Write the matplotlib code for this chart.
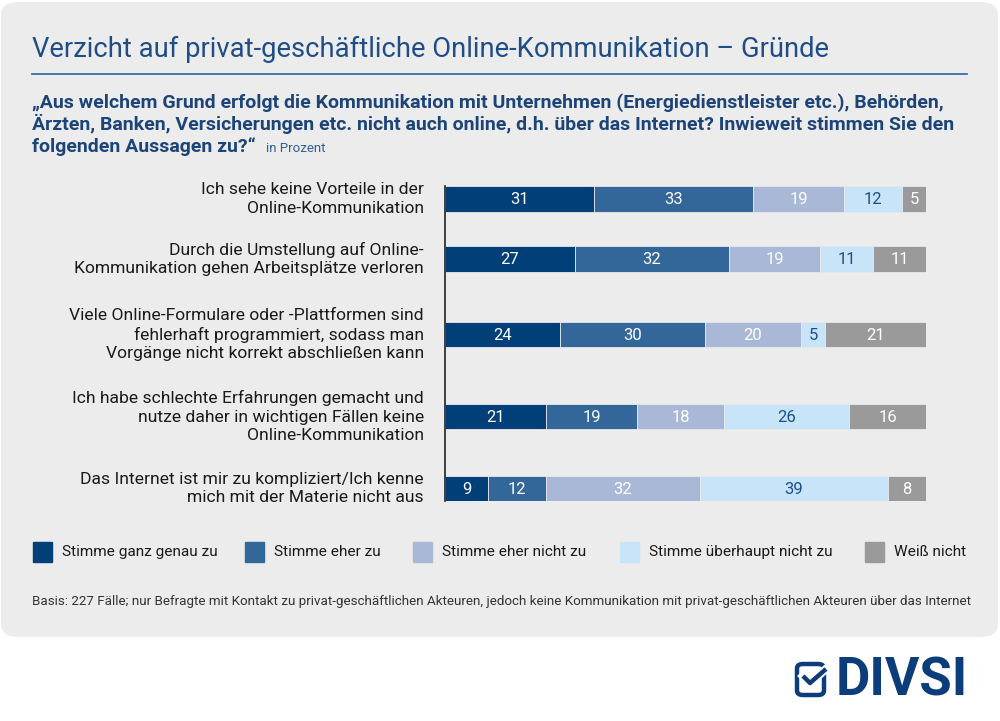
import matplotlib
matplotlib.use("Agg")
import matplotlib.pyplot as plt
import numpy as np
from matplotlib.patches import FancyBboxPatch, Rectangle
from matplotlib.lines import Line2D

plt.rcParams['font.family'] = ['Roboto', 'DejaVu Sans']

# data
categories = [
    "Ich sehe keine Vorteile in der\nOnline-Kommunikation",
    "Durch die Umstellung auf Online-\nKommunikation gehen Arbeitsplätze verloren",
    "Viele Online-Formulare oder -Plattformen sind\nfehlerhaft programmiert, sodass man\nVorgänge nicht korrekt abschließen kann",
    "Ich habe schlechte Erfahrungen gemacht und\nnutze daher in wichtigen Fällen keine\nOnline-Kommunikation",
    "Das Internet ist mir zu kompliziert/Ich kenne\nmich mit der Materie nicht aus",
]
series_names = ["Stimme ganz genau zu", "Stimme eher zu", "Stimme eher nicht zu",
                "Stimme überhaupt nicht zu", "Weiß nicht"]
ganz_genau = [31, 27, 24, 21, 9]
eher_zu = [33, 32, 30, 19, 12]
eher_nicht = [19, 19, 20, 18, 32]
ueberhaupt_nicht = [12, 11, 5, 26, 39]
weiss_nicht = [5, 11, 21, 16, 8]
series = [ganz_genau, eher_zu, eher_nicht, ueberhaupt_nicht, weiss_nicht]

title = "Verzicht auf privat-geschäftliche Online-Kommunikation – Gründe"
question = ["„Aus welchem Grund erfolgt die Kommunikation mit Unternehmen (Energiedienstleister etc.), Behörden,",
            "Ärzten, Banken, Versicherungen etc. nicht auch online, d.h. über das Internet? Inwieweit stimmen Sie den",
            "folgenden Aussagen zu?“"]
unit = "in Prozent"
footnote = ("Basis: 227 Fälle; nur Befragte mit Kontakt zu privat-geschäftlichen Akteuren, "
            "jedoch keine Kommunikation mit privat-geschäftlichen Akteuren über das Internet")

# styles / layout
colors = ["#003f78", "#336699", "#a9b8d6", "#c8e4f8", "#9a9a9a"]
value_colors = ["white", "white", "white", "#1d4f8c", "white"]
row_y = [199, 259, 334.5, 416.5, 488.5]   # pixel centers of the rows
bar_h = 25.5
W, H = 1000, 721
navy = "#1f4d86"

def fx(x):
    return x / W

def fy(y):
    return 1 - y / H

fig = plt.figure(figsize=(10, 7.21), dpi=100)
fig.patch.set_facecolor("white")

# grey rounded panel
panel = FancyBboxPatch((fx(1), fy(637)), fx(997), 635 / H,
                       boxstyle="round,pad=0,rounding_size=0.018",
                       transform=fig.transFigure, facecolor="#ececec",
                       edgecolor="none", zorder=-10)
fig.patches.append(panel)

# title and rule
fig.text(fx(32), fy(57), title, fontsize=19.7, color=navy, va="baseline", ha="left")
fig.add_artist(Line2D([fx(32), fx(967)], [fy(74), fy(74)], color="#3b6ea8", lw=1.3,
                      transform=fig.transFigure))

# question
for i, line in enumerate(question):
    t = fig.text(fx(32), fy(108 + 22 * i), line, fontsize=14.0, fontweight="bold",
                 color="#1c4478", va="baseline", ha="left")
fig.canvas.draw()
bb = t.get_window_extent()
fig.text(bb.x1 / W + fx(10), fy(152), unit, fontsize=9.5, color="#2f5f98",
         va="baseline", ha="left")

# bars
ax = fig.add_axes([fx(445), fy(501), fx(926) - fx(445), (501 - 186) / H])
ax.set_xlim(0, 100)
ax.set_ylim(501, 186)
ax.patch.set_alpha(0)
left = np.zeros(len(categories))
for vals, c, tc in zip(series, colors, value_colors):
    vals = np.array(vals)
    ax.barh(row_y, vals, left=left, height=bar_h, color=c, edgecolor="#e6e9ee", linewidth=0.6)
    for y, l, v in zip(row_y, left, vals):
        ax.text(l + v / 2, y + 0.5, str(v), ha="center", va="center", fontsize=12, color=tc)
    left += vals

for s in ["top", "right", "bottom"]:
    ax.spines[s].set_visible(False)
ax.spines["left"].set_color("#222222")
ax.spines["left"].set_linewidth(1.2)
ax.set_xticks([])
ax.set_yticks([])

for y, cat in zip(row_y, categories):
    fig.text(fx(424), fy(y), cat, ha="right", va="center", fontsize=12.6,
             color="#1a1a1a", linespacing=1.27)

# legend
leg_sq = [33, 245, 413, 620, 865]
for x, name, c in zip(leg_sq, series_names, colors):
    fig.patches.append(Rectangle((fx(x), fy(562)), fx(19), 20 / H, color=c,
                                 transform=fig.transFigure))
    fig.text(fx(x + 29), fy(552), name, fontsize=11.1, color="#1a1a1a",
             va="center", ha="left")

fig.text(fx(32), fy(602), footnote, fontsize=9.6, color="#333333", va="center", ha="left")

# logo
logo_c = "#0a3d7a"
fig.patches.append(FancyBboxPatch((fx(797), fy(695)), fx(27), 31 / H,
                                  boxstyle="round,pad=0,rounding_size=0.006",
                                  transform=fig.transFigure, facecolor="none",
                                  edgecolor=logo_c, linewidth=3.2))
fig.add_artist(Line2D([fx(803), fx(810), fx(826)], [fy(676), fy(683), fy(669)],
                      color="white", lw=6, transform=fig.transFigure))
fig.add_artist(Line2D([fx(803), fx(810), fx(826)], [fy(676), fy(683), fy(669)],
                      color=logo_c, lw=3.2, transform=fig.transFigure, solid_capstyle="butt"))
fig.text(fx(836), fy(696), "DIVSI", fontsize=38, fontweight="bold", color=logo_c,
         va="baseline", ha="left")

fig.savefig("out.png", dpi=100, facecolor="white")
